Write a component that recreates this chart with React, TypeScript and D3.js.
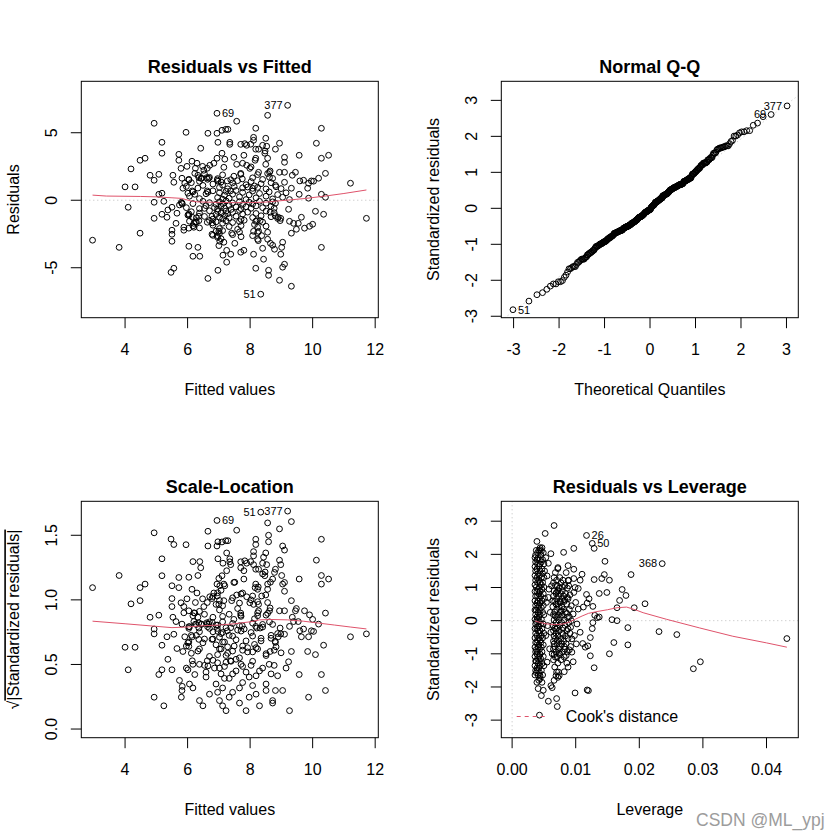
import { useEffect } from "react"
import * as d3 from "d3"

// ---- data ----

// Residuals vs Fitted: [fitted, residual]
const fittedResid: [number, number][] = [
  [2.96, -2.96], [3.81, -3.49], [4.0, 0.99], [4.1, -0.52], [4.19, 2.32], [4.32, 0.99], [4.48, 2.96], [4.64, 3.11],
  [4.48, -2.44], [4.8, 1.85], [4.93, 5.7], [4.93, 1.48], [4.93, -0.15], [4.93, -1.34], [5.08, 1.92], [5.08, 0.44],
  [5.18, 4.29], [5.18, 3.48], [5.18, 0.52], [5.18, -1.04], [5.24, -0.08], [5.34, -1.26], [5.37, -0.72], [5.47, -5.34],
  [5.56, -5.04], [5.5, -3.04], [5.5, -2.52], [5.5, -2.22], [5.5, -0.52], [5.53, 1.85], [5.56, 1.33], [5.63, -1.71],
  [5.66, -0.96], [5.72, 3.4], [5.72, 2.96], [5.79, 2.36], [5.82, 1.63], [5.82, -0.22], [5.88, -2.22], [5.88, -2.0],
  [5.85, 0.89], [5.91, 1.26], [5.95, 5.03], [5.98, 2.51], [6.01, 0.52], [6.04, 1.55], [6.04, -1.12], [6.04, -2.07],
  [6.04, -3.41], [6.14, 2.89], [6.17, -4.15], [6.2, -1.71], [6.23, 1.99], [6.23, 0.44], [6.3, 2.74], [6.33, -3.49],
  [6.36, -1.19], [6.39, -4.15], [6.42, 3.85], [6.45, 1.63], [6.48, 2.51], [6.54, -0.6], [6.65, -5.79], [6.65, 4.96],
  [6.65, 0.59], [6.68, 1.63], [6.71, 2.59], [6.78, -1.19], [6.78, -2.52], [6.84, 2.74], [6.94, 4.96], [6.97, 4.29],
  [6.97, -5.19], [6.94, 3.11], [6.97, 1.41], [7.0, -2.3], [7.03, -3.04], [7.1, 5.18], [7.1, 3.48], [7.13, -4.07],
  [7.16, 2.44], [7.19, 3.04], [7.22, 5.25], [7.29, 5.25], [7.25, -4.59], [7.25, -3.71], [7.35, 4.29], [7.35, 4.14],
  [7.38, -4.0], [7.41, -2.44], [7.48, 3.18], [7.51, -3.19], [7.57, 5.85], [7.57, 2.66], [7.7, 4.14], [7.7, 1.99],
  [7.7, -3.85], [7.76, 2.74], [7.8, 3.33], [7.8, -3.71], [7.89, 4.07], [7.89, 2.59], [7.99, 2.36], [8.11, 4.66],
  [8.11, 4.44], [8.11, -2.3], [8.11, -4.0], [8.18, 5.33], [8.18, 3.78], [8.18, 3.11], [8.18, -1.56], [8.18, -5.04],
  [8.24, -2.89], [8.27, 3.78], [8.27, 2.07], [8.27, -2.3], [8.4, 4.07], [8.4, -3.56], [8.43, -4.37], [8.47, 3.48],
  [8.5, 4.59], [8.5, 2.66], [8.53, 4.0], [8.56, 6.29], [8.56, 3.11], [8.56, -2.37], [8.56, -2.89], [8.59, -5.19],
  [8.59, -5.56], [8.62, 2.07], [8.62, 1.7], [8.65, -3.19], [8.72, -3.33], [8.78, -3.63], [8.81, 3.78], [8.81, 1.11],
  [8.81, -0.22], [8.94, 4.22], [8.94, 2.07], [8.94, -5.93], [8.98, -1.34], [8.98, -4.0], [9.01, -3.49], [9.04, -3.11],
  [9.04, -4.96], [9.1, -4.74], [9.1, 3.18], [9.1, 2.81], [9.1, 2.07], [9.1, 1.33], [9.23, -0.67], [9.26, -1.56],
  [9.32, -2.44], [9.32, -6.37], [9.32, 0.89], [9.35, 1.85], [9.39, -1.71], [9.45, 2.07], [9.48, -2.15], [9.54, -1.71],
  [9.57, 3.33], [9.57, 0.44], [9.64, -1.26], [9.71, 1.48], [9.74, -2.07], [9.84, 0.89], [9.87, 1.26], [9.87, 0.15],
  [9.9, -1.93], [10.0, -1.78], [10.03, 1.41], [10.09, -0.82], [10.12, 4.22], [10.19, 1.63], [10.28, 5.33], [10.28, 3.11],
  [10.28, 0.44], [10.28, -3.49], [10.35, -1.04], [10.41, 1.99], [10.41, 0.22], [10.51, 3.33], [11.21, 1.26], [11.72, -1.34],
  // dense middle
  [6.33, 1.85], [6.43, 1.62], [6.54, 1.95], [6.64, 1.55], [6.7, 1.7], [6.96, 1.6], [7.12, 1.88], [7.38, 1.52],
  [7.48, 1.78], [7.7, 1.92], [7.75, 1.58], [8.08, 1.66], [8.24, 1.9], [8.4, 1.54], [8.56, 1.98], [8.72, 1.62],
  [5.96, 1.02], [6.12, 1.3], [6.33, 0.9], [6.38, 1.4], [6.49, 1.1], [6.81, 1.2], [7.02, 0.95], [7.07, 1.35],
  [7.12, 1.12], [7.28, 0.85], [7.44, 1.28], [7.49, 1.02], [7.6, 1.45], [7.76, 0.92], [7.87, 1.15], [7.92, 0.98],
  [8.03, 1.38], [8.08, 0.88], [8.14, 1.06], [8.24, 0.95], [8.35, 1.22], [8.51, 0.84], [8.67, 1.3], [8.83, 1.0], [8.99, 0.86],
  [6.06, 0.3], [6.17, 0.62], [6.38, 0.12], [6.59, 0.48], [6.81, 0.7], [6.96, 0.2], [7.02, 0.55], [7.12, 0.08],
  [7.18, 0.38], [7.23, 0.66], [7.33, 0.15], [7.44, 0.45], [7.55, 0.72], [7.66, 0.25], [7.76, 0.58], [7.87, 0.05],
  [7.97, 0.4], [8.08, 0.68], [8.19, 0.18], [8.3, 0.5], [8.51, 0.3], [8.61, 0.62], [8.72, 0.1], [8.88, 0.42],
  [9.04, 0.22], [9.15, 0.55], [9.26, 0.05],
  [5.74, -0.35], [5.8, -0.15], [5.96, -0.55], [6.17, -0.25], [6.38, -0.62], [6.49, -0.08], [6.59, -0.4], [6.7, -0.18],
  [6.86, -0.55], [6.91, -0.3], [6.96, -0.65], [7.02, -0.12], [7.07, -0.45], [7.12, -0.25], [7.18, -0.58], [7.23, -0.05],
  [7.33, -0.38], [7.39, -0.68], [7.44, -0.2], [7.55, -0.5], [7.66, -0.1], [7.71, -0.62], [7.76, -0.32], [7.87, -0.48],
  [7.97, -0.15], [8.03, -0.6], [8.08, -0.28], [8.19, -0.42], [8.3, -0.08], [8.4, -0.55], [8.51, -0.22], [8.67, -0.45],
  [8.72, -0.12], [8.77, -0.6],
  [6.01, -1.1], [6.12, -0.85], [6.28, -1.3], [6.38, -0.95], [6.54, -1.2], [6.7, -0.78], [6.81, -1.4], [6.91, -1.05],
  [6.96, -0.82], [7.02, -1.25], [7.07, -0.95], [7.12, -1.38], [7.18, -1.12], [7.23, -0.8], [7.28, -1.0], [7.33, -1.3],
  [7.44, -0.9], [7.55, -1.18], [7.66, -0.75], [7.71, -1.42], [7.76, -1.02], [7.92, -0.88], [8.08, -1.28], [8.19, -0.98],
  [8.35, -1.15], [8.51, -0.8], [8.67, -1.22], [8.77, -0.92], [8.88, -1.35],
  [6.06, -1.55], [6.17, -1.9], [6.28, -1.62], [6.38, -2.05], [6.7, -1.5], [6.81, -1.85], [6.91, -1.6], [7.02, -2.1],
  [7.12, -1.7], [7.23, -1.52], [7.33, -1.95], [7.44, -1.65], [7.6, -2.15], [7.66, -1.58], [7.71, -1.88], [7.81, -1.48],
  [8.14, -1.8], [8.24, -2.0], [8.4, -1.62], [8.51, -1.92],
  [6.81, -2.6], [6.91, -2.3], [6.96, -2.75], [7.02, -2.45], [7.07, -2.85], [7.12, -2.25], [7.44, -2.55], [7.66, -2.35],
  [7.71, -2.7], [8.08, -2.62], [8.24, -2.4],
  [8.26, -2.99], [8.37, -2.62], [8.9, -1.26], [8.96, -1.51], [8.8, -1.14], [8.64, -0.89], [8.21, -1.51], [8.32, -1.51],
  [8.16, 2.96], [8.48, 3.65], [8.03, 2.47], [8.64, 2.17], [9.59, 1.43], [9.96, 1.43], [8.02, 4.15], [7.83, 4.19],
  [6.25, 2.37], [6.52, 2.22], [6.63, 2.37],
  [6.04, 1.5], [6.36, 1.67], [6.61, 1.67], [6.95, 1.5], [7.27, 1.43], [6.15, 0.69], [6.63, 0.69], [7.37, 0.69],
  [5.83, -0.27], [6.04, -1.01], [6.15, -1.26], [6.25, -1.63], [6.2, -2.0], [6.36, -1.51], [6.63, -1.63], [6.79, -1.68],
  [6.95, -2.62], [7.0, -3.36], [7.16, -3.11],
]
// the three largest |residuals|, with their row names
const fittedLabeled: [number, number, string][] = [
  [9.2, 7.03, "377"],
  [6.94, 6.44, "69"],
  [8.34, -6.96, "51"],
]
const residualSigma = 2.47

// red lowess lines as drawn
const fittedSmooth: [number, number][] = [
  [2.96, 0.38], [3.4, 0.31], [4.5, 0.28], [5.0, 0.25], [5.5, 0.18], [5.8, 0.14], [6.1, -0.05], [6.3, -0.12],
  [6.8, -0.15], [7.5, -0.18], [8.0, -0.17], [8.5, -0.14], [9.0, -0.03], [9.3, 0.03], [9.8, 0.14], [10.5, 0.34],
  [11.0, 0.5], [11.72, 0.76],
]
const scaleSmooth: [number, number][] = [
  [2.96, 0.835], [4.0, 0.815], [5.0, 0.795], [5.5, 0.785], [6.0, 0.79], [6.5, 0.8], [7.0, 0.805], [7.5, 0.815],
  [8.0, 0.83], [8.3, 0.845], [8.7, 0.848], [9.2, 0.845], [9.7, 0.835], [10.2, 0.82], [10.7, 0.805], [11.2, 0.79],
  [11.72, 0.775],
]
const leverageSmooth: [number, number][] = [
  [0.0036, -0.01], [0.0045, -0.06], [0.0055, -0.1], [0.0068, -0.12], [0.008, -0.1], [0.009, -0.04], [0.01, 0.05],
  [0.011, 0.14], [0.012, 0.22], [0.0135, 0.28], [0.015, 0.33], [0.0165, 0.39], [0.018, 0.41], [0.0195, 0.32],
  [0.0206, 0.24], [0.0243, 0.04], [0.0295, -0.22], [0.0347, -0.47], [0.04, -0.67], [0.0432, -0.8],
]

// Residuals vs Leverage: [leverage, standardized residual]
const leverageStd: [number, number][] = [
  [0.0066, 2.87], [0.0052, 2.63], [0.0039, 2.39], [0.0129, 2.18], [0.0097, 2.18], [0.0081, 2.06], [0.0061, 2.02],
  [0.0044, 2.14], [0.0046, 2.1], [0.0146, 1.79], [0.0088, 1.66], [0.0097, 1.55], [0.0072, 1.57], [0.0057, 1.73],
  [0.0187, 1.39], [0.0145, 1.39], [0.0141, 1.27], [0.0153, 1.22], [0.0129, 1.24], [0.011, 1.4], [0.0107, 1.22],
  [0.0097, 1.27], [0.0088, 1.21], [0.0104, 0.97], [0.0173, 0.94], [0.0149, 0.85], [0.0137, 0.82], [0.0179, 0.76],
  [0.0117, 0.79], [0.0121, 0.66], [0.0169, 0.61], [0.0209, 0.51], [0.0192, 0.39], [0.0165, 0.39], [0.0127, 0.43],
  [0.013, 0.16], [0.0137, 0.11], [0.0134, 0.09], [0.0118, 0.53], [0.0112, 0.41], [0.0157, 0.03], [0.0165, 0.0],
  [0.0127, -0.06], [0.0126, -0.24], [0.0123, -0.51], [0.0182, -0.21], [0.0231, -0.33], [0.0259, -0.42],
  [0.0432, -0.54], [0.016, -0.66], [0.0182, -0.73], [0.0119, -0.76], [0.0115, -0.8], [0.0111, -0.69], [0.0153, -1.0],
  [0.0123, -1.06], [0.0285, -1.45], [0.0296, -1.24], [0.0129, -1.42], [0.0096, -1.24], [0.0088, -1.4], [0.0082, -1.54],
  [0.0099, -2.18], [0.0118, -2.09], [0.012, -2.11], [0.0074, -1.66], [0.0072, -1.71], [0.007, -2.35], [0.0071, -2.59],
  [0.0057, -2.43], [0.0061, -1.96], [0.0063, -2.02], [0.0049, -2.1], [0.0046, -2.26], [0.0041, -2.05], [0.0042, -1.8],
  [0.0044, -1.67], [0.0043, -2.85],
  // left column
  [0.0044, 2.2], [0.0047, 2.2], [0.0038, 2.12], [0.0042, 2.12], [0.004, 2.05], [0.0049, 2.05], [0.0037, 1.98],
  [0.0045, 1.98], [0.0041, 1.9], [0.0036, 1.9], [0.0043, 1.84], [0.0048, 1.84], [0.0039, 1.84], [0.0037, 1.77],
  [0.0046, 1.77], [0.004, 1.71], [0.0044, 1.71], [0.005, 1.71], [0.0036, 1.63], [0.0042, 1.63], [0.0039, 1.56],
  [0.0047, 1.56], [0.0044, 1.5], [0.0037, 1.5], [0.0051, 1.5], [0.0041, 1.42], [0.0048, 1.42], [0.0036, 1.36],
  [0.0043, 1.36], [0.0039, 1.3], [0.0046, 1.3], [0.005, 1.3], [0.0037, 1.22], [0.0042, 1.22], [0.0044, 1.15],
  [0.004, 1.15], [0.0048, 1.15], [0.0036, 1.08], [0.0046, 1.08], [0.0038, 1.01], [0.0043, 1.01], [0.005, 1.01],
  [0.0041, 0.94], [0.0047, 0.94], [0.0036, 0.88], [0.0044, 0.88], [0.0039, 0.88], [0.0042, 0.81], [0.0049, 0.81],
  [0.0037, 0.74], [0.0045, 0.74], [0.004, 0.74], [0.0043, 0.67], [0.0051, 0.67], [0.0036, 0.6], [0.0041, 0.6],
  [0.0047, 0.6], [0.0039, 0.53], [0.0044, 0.53], [0.0037, 0.46], [0.0042, 0.46], [0.0049, 0.46], [0.004, 0.39],
  [0.0046, 0.39], [0.0036, 0.32], [0.0043, 0.32], [0.0038, 0.32], [0.0041, 0.25], [0.0048, 0.25], [0.0037, 0.18],
  [0.0044, 0.18], [0.005, 0.18], [0.0039, 0.11], [0.0042, 0.11], [0.0036, 0.04], [0.0046, 0.04], [0.004, 0.04],
  [0.0043, -0.03], [0.0038, -0.03], [0.0037, -0.1], [0.0045, -0.1], [0.0049, -0.1], [0.004, -0.17], [0.0042, -0.17],
  [0.0036, -0.24], [0.0047, -0.24], [0.0039, -0.24], [0.0044, -0.31], [0.0041, -0.31], [0.0037, -0.38], [0.0043, -0.38],
  [0.005, -0.38], [0.0039, -0.45], [0.0046, -0.45], [0.0036, -0.52], [0.0042, -0.52], [0.0048, -0.52], [0.004, -0.59],
  [0.0044, -0.59], [0.0037, -0.66], [0.0045, -0.66], [0.0039, -0.66], [0.0042, -0.73], [0.0049, -0.73], [0.0036, -0.8],
  [0.0041, -0.8], [0.0046, -0.8], [0.0038, -0.87], [0.0043, -0.87], [0.0037, -0.94], [0.0047, -0.94], [0.004, -0.94],
  [0.0044, -1.01], [0.0039, -1.01], [0.0036, -1.08], [0.0042, -1.08], [0.0049, -1.08], [0.004, -1.15], [0.0045, -1.15],
  [0.0037, -1.22], [0.0043, -1.22], [0.0038, -1.22], [0.0041, -1.29], [0.0047, -1.29], [0.0036, -1.36], [0.0044, -1.36],
  [0.005, -1.36], [0.0039, -1.43], [0.0042, -1.43], [0.0037, -1.5], [0.0046, -1.5], [0.004, -1.5], [0.0043, -1.57],
  [0.0038, -1.57], [0.0036, -1.64], [0.0041, -1.64], [0.0048, -1.64], [0.0044, -1.75], [0.0039, -1.86], [0.0047, -1.86],
  // right column
  [0.0072, 1.6], [0.0068, 1.45], [0.0085, 1.45], [0.0075, 1.3], [0.0066, 1.3], [0.008, 1.22], [0.007, 1.22],
  [0.0089, 1.22], [0.0065, 1.14], [0.0077, 1.14], [0.0083, 1.06], [0.0071, 1.06], [0.0068, 1.06], [0.0074, 0.98],
  [0.0087, 0.98], [0.0066, 0.9], [0.0079, 0.9], [0.0072, 0.9], [0.0084, 0.82], [0.0069, 0.82], [0.0076, 0.82],
  [0.0065, 0.74], [0.0081, 0.74], [0.0073, 0.74], [0.0078, 0.66], [0.007, 0.66], [0.0088, 0.66], [0.0067, 0.58],
  [0.0075, 0.58], [0.0082, 0.58], [0.0072, 0.5], [0.0086, 0.5], [0.0069, 0.5], [0.0064, 0.42], [0.0078, 0.42],
  [0.0074, 0.42], [0.0081, 0.34], [0.007, 0.34], [0.009, 0.34], [0.0067, 0.26], [0.0076, 0.26], [0.0084, 0.26],
  [0.0073, 0.18], [0.0065, 0.18], [0.0079, 0.18], [0.0087, 0.1], [0.007, 0.1], [0.0076, 0.1], [0.0066, 0.02],
  [0.0082, 0.02], [0.0073, 0.02], [0.0078, -0.06], [0.0069, -0.06], [0.0089, -0.06], [0.0064, -0.14], [0.0075, -0.14],
  [0.0083, -0.14], [0.0071, -0.22], [0.008, -0.22], [0.0067, -0.22], [0.0086, -0.3], [0.0074, -0.3], [0.0065, -0.3],
  [0.0069, -0.38], [0.0079, -0.38], [0.0091, -0.38], [0.0072, -0.46], [0.0084, -0.46], [0.0066, -0.46], [0.0077, -0.54],
  [0.0068, -0.54], [0.0088, -0.54], [0.0065, -0.62], [0.0074, -0.62], [0.0081, -0.62], [0.0071, -0.7], [0.0085, -0.7],
  [0.0078, -0.7], [0.0067, -0.78], [0.0076, -0.78], [0.0092, -0.78], [0.0073, -0.86], [0.0083, -0.86], [0.0065, -0.86],
  [0.0079, -0.94], [0.0069, -0.94], [0.0087, -0.94], [0.0066, -1.02], [0.0075, -1.02], [0.0071, -1.1], [0.0082, -1.1],
  [0.0068, -1.1], [0.0077, -1.18], [0.0065, -1.18], [0.0072, -1.28], [0.0086, -1.28], [0.0067, -1.4], [0.0073, -1.55],
  [0.007, -1.55], [0.0069, -1.66], [0.0066, -1.8],
  [0.0091, 0.78], [0.0093, 0.45], [0.009, 0.12], [0.0092, -0.2], [0.0094, -0.55], [0.009, -0.88], [0.0089, 1.05],
  [0.0086, 0.22], [0.0083, 0.62], [0.008, -0.42], [0.0077, 0.3], [0.0071, -0.58], [0.0068, 0.14], [0.0085, -1.05],
  [0.0079, 1.02], [0.007, 0.86], [0.0088, -0.25], [0.0074, -0.98], [0.0066, -0.7], [0.0082, -0.78], [0.0076, 0.55],
  [0.0064, 0.6], [0.0093, 0.0], [0.0087, 0.7], [0.0069, -0.25],
  // between and right of the columns
  [0.0055, 1.35], [0.0058, 0.95], [0.0054, 0.55], [0.006, 0.25], [0.0056, -0.15], [0.0053, -0.45], [0.0059, -0.85],
  [0.0055, -1.25], [0.0062, 1.05], [0.0061, -0.35], [0.0057, 0.7], [0.0053, 1.9], [0.0063, -1.0], [0.0097, 0.85],
  [0.01, 0.55], [0.0096, 0.2], [0.0102, -0.1], [0.0098, -0.45], [0.0101, -0.7], [0.0094, -0.95], [0.0104, 0.35],
  [0.0107, -0.35], [0.0099, 1.0],
]
// the three largest Cook's distances, with their row names
const leverageLabeled: [number, number, string][] = [
  [0.0117, 2.57, "26"],
  [0.0126, 2.33, "50"],
  [0.0236, 1.72, "368"],
]

const fitXTicks = [4, 6, 8, 10, 12]
const residYTicks = [-5, 0, 5]
const qqTicks = [-3, -2, -1, 0, 1, 2, 3]
const scaleYTicks = [0, 0.5, 1, 1.5]
const levXTicks = [0, 0.01, 0.02, 0.03, 0.04]

// ---- drawing ----

const FONT = "'Liberation Sans', Arial, Helvetica, sans-serif"
const RED = "#DF536B"
const GRAY = "#BEBEBE"

type Box = { x0: number; x1: number; y0: number; y1: number }
const boxTL: Box = { x0: 81.3, x1: 378.3, y0: 81.3, y1: 317.7 }
const boxTR: Box = { x0: 501.3, x1: 798.3, y0: 81.3, y1: 317.7 }
const boxBL: Box = { x0: 81.3, x1: 378.3, y0: 501.3, y1: 737.7 }
const boxBR: Box = { x0: 501.3, x1: 798.3, y0: 501.3, y1: 737.7 }

// inverse normal cdf (Acklam)
function qnorm(p: number) {
  const a = [-39.69683028665376, 220.9460984245205, -275.9285104469687, 138.357751867269, -30.66479806614716, 2.506628277459239]
  const b = [-54.47609879822406, 161.5858368580409, -155.6989798598866, 66.80131188771972, -13.28068155288572]
  const c = [-0.007784894002430293, -0.3223964580411365, -2.400758277161838, -2.549732539343734, 4.374664141464968, 2.938163982698783]
  const d = [0.007784695709041462, 0.3224671290700398, 2.445134137142996, 3.754408661907416]
  const tail = (q: number) =>
    (((((c[0] * q + c[1]) * q + c[2]) * q + c[3]) * q + c[4]) * q + c[5]) /
    ((((d[0] * q + d[1]) * q + d[2]) * q + d[3]) * q + 1)
  if (p < 0.02425) return tail(Math.sqrt(-2 * Math.log(p)))
  if (p > 1 - 0.02425) return -tail(Math.sqrt(-2 * Math.log(1 - p)))
  const q = p - 0.5
  const r = q * q
  return (
    ((((((a[0] * r + a[1]) * r + a[2]) * r + a[3]) * r + a[4]) * r + a[5]) * q) /
    (((((b[0] * r + b[1]) * r + b[2]) * r + b[3]) * r + b[4]) * r + 1)
  )
}

type FrameProps = {
  id: string
  box: Box
  x: d3.ScaleLinear<number, number>
  y: d3.ScaleLinear<number, number>
  xTicks: number[]
  yTicks: number[]
  fmtX: (v: number) => string
  fmtY: (v: number) => string
  title: string
  xLabel: string
  yLabel: React.ReactNode
  children: React.ReactNode
  overlay?: React.ReactNode
}

function Frame({ id, box, x, y, xTicks, yTicks, fmtX, fmtY, title, xLabel, yLabel, children, overlay }: FrameProps) {
  const cx = (box.x0 + box.x1) / 2
  const cy = (box.y0 + box.y1) / 2
  return (
    <g>
      <defs>
        <clipPath id={id}>
          <rect x={box.x0} y={box.y0} width={box.x1 - box.x0} height={box.y1 - box.y0} />
        </clipPath>
      </defs>
      <g clipPath={`url(#${id})`}>{children}</g>
      {overlay}
      <rect x={box.x0} y={box.y0} width={box.x1 - box.x0} height={box.y1 - box.y0} fill="none" stroke="#000" />
      {xTicks.map((t) => (
        <g key={`x${t}`}>
          <line x1={x(t)} x2={x(t)} y1={box.y1} y2={box.y1 + 10.5} stroke="#000" />
          <text x={x(t)} y={box.y1 + 37.3} textAnchor="middle" fontSize={16}>
            {fmtX(t)}
          </text>
        </g>
      ))}
      {yTicks.map((t) => (
        <g key={`y${t}`}>
          <line x1={box.x0 - 10.5} x2={box.x0} y1={y(t)} y2={y(t)} stroke="#000" />
          <text transform={`translate(${box.x0 - 24},${y(t)}) rotate(-90)`} textAnchor="middle" fontSize={16}>
            {fmtY(t)}
          </text>
        </g>
      ))}
      <text x={cx} y={box.y0 - 8.6} textAnchor="middle" fontSize={18} fontWeight="bold">
        {title}
      </text>
      <text x={cx} y={box.y1 + 77.3} textAnchor="middle" fontSize={16}>
        {xLabel}
      </text>
      <text transform={`translate(${box.x0 - 62},${cy}) rotate(-90)`} textAnchor="middle" fontSize={16}>
        {yLabel}
      </text>
    </g>
  )
}

function Points({ data, x, y }: { data: [number, number][]; x: (v: number) => number; y: (v: number) => number }) {
  return (
    <g fill="none" stroke="#000" strokeWidth={1}>
      {data.map((d, i) => (
        <circle key={i} cx={x(d[0])} cy={y(d[1])} r={2.9} />
      ))}
    </g>
  )
}

// R's text.id: right of the point on the left half, left of it on the right half
function IdLabels({ items, x, y, mid }: { items: [number, number, string][]; x: (v: number) => number; y: (v: number) => number; mid: number }) {
  return (
    <g fontSize={11}>
      {items.map(([a, b, name]) => {
        const right = a <= mid
        return (
          <text key={name} x={x(a) + (right ? 5 : -5)} y={y(b)} dy="0.35em" textAnchor={right ? "start" : "end"}>
            {name}
          </text>
        )
      })}
    </g>
  )
}

export default function App() {
  useEffect(() => {
    document.body.style.margin = "0"
  }, [])

  const fitAll: [number, number][] = [...fittedResid, ...fittedLabeled.map((d) => [d[0], d[1]] as [number, number])]
  const fitMid = d3.mean(d3.extent(fitAll, (d) => d[0]) as [number, number])!

  // panel 1
  const x1 = d3.scaleLinear().domain([2.6, 12.1]).range([boxTL.x0, boxTL.x1])
  const y1 = d3.scaleLinear().domain([-8.7, 8.81]).range([boxTL.y1, boxTL.y0])

  // panel 2: sorted standardized residuals against normal quantiles
  const std = fitAll.map((d) => d[1] / residualSigma)
  const sorted = [...std].sort((a, b) => a - b)
  const n = sorted.length
  const qq: [number, number][] = sorted.map((v, i) => [qnorm((i + 0.5) / n), v])
  const qqLabels: [number, number, string][] = fittedLabeled.map(([, r, name]) => {
    const v = r / residualSigma
    const i = sorted.indexOf(v)
    return [qq[i][0], v, name]
  })
  const x2 = d3.scaleLinear().domain([-3.27, 3.26]).range([boxTR.x0, boxTR.x1])
  const y2 = d3.scaleLinear().domain([-3.04, 3.53]).range([boxTR.y1, boxTR.y0])
  const qy1 = d3.quantile(sorted, 0.25)!
  const qy3 = d3.quantile(sorted, 0.75)!
  const slope = (qy3 - qy1) / (qnorm(0.75) - qnorm(0.25))
  const intercept = qy1 - slope * qnorm(0.25)

  // panel 3
  const y3 = d3.scaleLinear().domain([-0.067, 1.763]).range([boxBL.y1, boxBL.y0])
  const scaleLoc: [number, number][] = fitAll.map((d) => [d[0], Math.sqrt(Math.abs(d[1] / residualSigma))])
  const scaleLabels: [number, number, string][] = fittedLabeled.map(([f, r, name]) => [f, Math.sqrt(Math.abs(r / residualSigma)), name])

  // panel 4
  const levAll: [number, number][] = [...leverageStd, ...leverageLabeled.map((d) => [d[0], d[1]] as [number, number])]
  const levMid = d3.mean(d3.extent(levAll, (d) => d[0]) as [number, number])!
  const x4 = d3.scaleLinear().domain([-0.0017, 0.045]).range([boxBR.x0, boxBR.x1])
  const y4 = d3.scaleLinear().domain([-3.53, 3.6]).range([boxBR.y1, boxBR.y0])

  const smooth = (xs: d3.ScaleLinear<number, number>, ys: d3.ScaleLinear<number, number>) =>
    d3
      .line<[number, number]>()
      .x((d) => xs(d[0]))
      .y((d) => ys(d[1]))

  return (
    <svg width={840} height={840} style={{ display: "block", background: "#fff" }} fontFamily={FONT}>
      <rect width={840} height={840} fill="#fff" />

      <Frame
        id="c1"
        box={boxTL}
        x={x1}
        y={y1}
        xTicks={fitXTicks}
        yTicks={residYTicks}
        fmtX={(v) => String(v)}
        fmtY={(v) => String(v)}
        title="Residuals vs Fitted"
        xLabel="Fitted values"
        yLabel="Residuals"
        overlay={<IdLabels items={fittedLabeled} x={x1} y={y1} mid={fitMid} />}
      >
        <line x1={boxTL.x0} x2={boxTL.x1} y1={y1(0)} y2={y1(0)} stroke={GRAY} strokeDasharray="1,3" />
        <Points data={fitAll} x={x1} y={y1} />
        <path d={smooth(x1, y1)(fittedSmooth)!} fill="none" stroke={RED} strokeWidth={1} />
      </Frame>

      <Frame
        id="c2"
        box={boxTR}
        x={x2}
        y={y2}
        xTicks={qqTicks}
        yTicks={qqTicks}
        fmtX={(v) => String(v)}
        fmtY={(v) => String(v)}
        title="Normal Q-Q"
        xLabel="Theoretical Quantiles"
        yLabel="Standardized residuals"
        overlay={<IdLabels items={qqLabels} x={x2} y={y2} mid={0} />}
      >
        <line
          x1={x2(-3.27)}
          x2={x2(3.26)}
          y1={y2(intercept + slope * -3.27)}
          y2={y2(intercept + slope * 3.26)}
          stroke={GRAY}
          strokeDasharray="1,3"
        />
        <Points data={qq} x={x2} y={y2} />
      </Frame>

      <Frame
        id="c3"
        box={boxBL}
        x={x1.copy().range([boxBL.x0, boxBL.x1])}
        y={y3}
        xTicks={fitXTicks}
        yTicks={scaleYTicks}
        fmtX={(v) => String(v)}
        fmtY={d3.format(".1f")}
        title="Scale-Location"
        xLabel="Fitted values"
        yLabel={
          <>
            <tspan>√</tspan>
            <tspan style={{ textDecoration: "overline" }}>|Standardized residuals|</tspan>
          </>
        }
        overlay={<IdLabels items={scaleLabels} x={x1} y={y3} mid={fitMid} />}
      >
        <Points data={scaleLoc} x={x1} y={y3} />
        <path d={smooth(x1, y3)(scaleSmooth)!} fill="none" stroke={RED} strokeWidth={1} />
      </Frame>

      <Frame
        id="c4"
        box={boxBR}
        x={x4}
        y={y4}
        xTicks={levXTicks}
        yTicks={qqTicks}
        fmtX={d3.format(".2f")}
        fmtY={(v) => String(v)}
        title="Residuals vs Leverage"
        xLabel="Leverage"
        yLabel="Standardized residuals"
        overlay={<IdLabels items={leverageLabeled} x={x4} y={y4} mid={levMid} />}
      >
        <line x1={boxBR.x0} x2={boxBR.x1} y1={y4(0)} y2={y4(0)} stroke={GRAY} strokeDasharray="1,3" />
        <line x1={x4(0)} x2={x4(0)} y1={boxBR.y0} y2={boxBR.y1} stroke={GRAY} strokeDasharray="1,3" />
        <Points data={levAll} x={x4} y={y4} />
        <path d={smooth(x4, y4)(leverageSmooth)!} fill="none" stroke={RED} strokeWidth={1} />
        <line x1={516.7} x2={546} y1={716.5} y2={716.5} stroke={RED} strokeDasharray="4,4" />
        <text x={565.7} y={716.5} dy="0.35em" fontSize={16}>
          Cook's distance
        </text>
      </Frame>

      <text x={696} y={826} fontSize={17.5} fill="#9c9c9c">
        CSDN @ML_ypj
      </text>
    </svg>
  )
}
